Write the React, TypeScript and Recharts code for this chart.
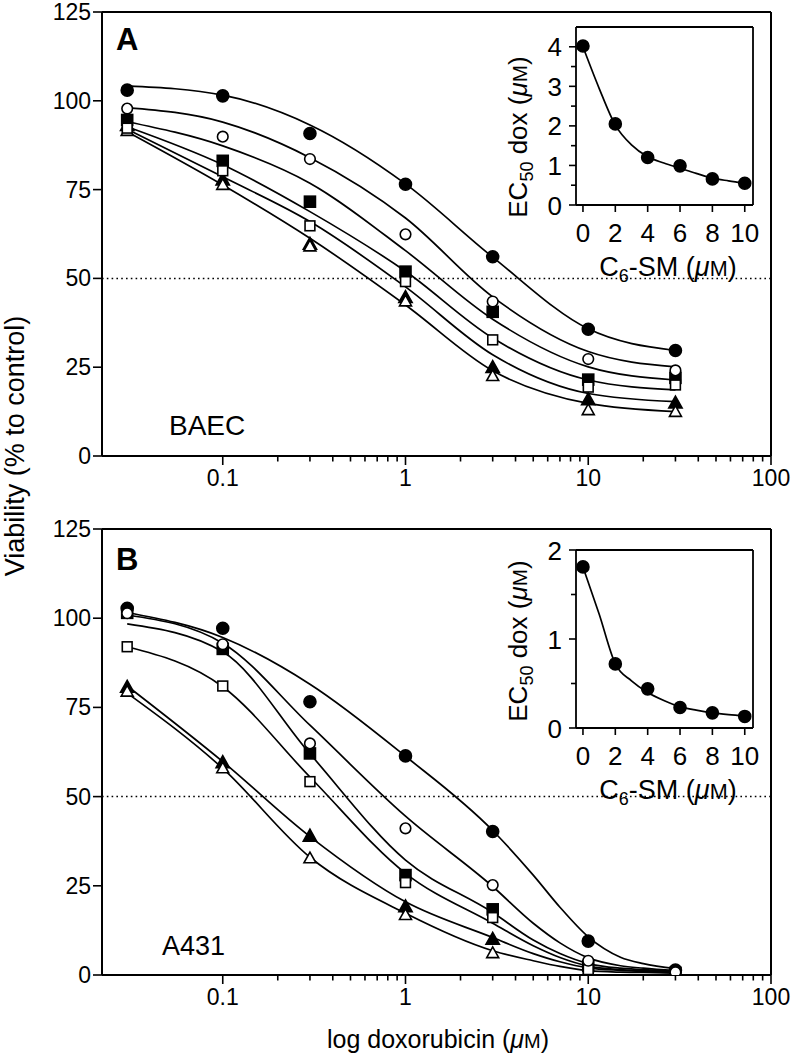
import React from 'react';
import { ComposedChart, Line, Scatter, XAxis, YAxis, ReferenceLine } from 'recharts';

const FONT = "'Liberation Sans', Arial, Helvetica, sans-serif";

// ---------- main panels: doxorubicin dose (µM) ----------
const doseX = [0.03, 0.1, 0.3, 1, 3, 10, 30];
const curveDoseA = [0.03, 0.1, 0.3, 1, 3, 10, 30];
const curveDoseB = [0.03, 0.1, 0.3, 1, 3, 5, 7, 10, 15, 20, 30];

// Panel A – BAEC, measured viability (% to control)
const baecFilledCircle = [103.0, 101.4, 90.8, 76.5, 56.1, 35.7, 29.7];
const baecOpenCircle = [97.8, 89.9, 83.6, 62.4, 43.5, 27.3, 24.1];
const baecFilledSquare = [94.6, 83.1, 71.6, 51.9, 40.6, 21.5, 22.0];
const baecOpenSquare = [92.3, 80.3, 64.8, 49.1, 32.7, 19.4, 20.0];
const baecFilledTriangle = [93.0, 77.7, 59.6, 44.6, 24.9, 15.8, 14.9];
const baecOpenTriangle = [91.5, 76.3, 59.0, 43.5, 22.5, 12.9, 12.4];

// Panel A – fitted curves read at curveDoseA
const baecFitFilledCircle = [104.2, 101.6, 93.2, 76.6, 56.0, 35.8, 29.7];
const baecFitOpenCircle = [98.1, 94.0, 84.0, 67.0, 44.8, 29.4, 25.1];
const baecFitFilledSquare = [94.1, 87.3, 76.8, 57.8, 38.5, 25.1, 21.4];
const baecFitOpenSquare = [92.7, 82.0, 68.8, 52.0, 33.2, 21.4, 18.6];
const baecFitFilledTriangle = [92.0, 78.6, 66.0, 47.6, 28.5, 17.6, 15.3];
const baecFitOpenTriangle = [91.3, 76.3, 61.3, 42.5, 24.0, 14.8, 12.5];

// Panel B – A431, measured viability
const a431FilledCircle = [102.8, 97.2, 76.6, 61.4, 40.2, 9.5, 1.4];
const a431OpenCircle = [101.4, 92.7, 64.9, 41.1, 25.2, 4.0, 0.8];
const a431FilledSquare = [101.5, 91.4, 62.1, 28.0, 18.4, 2.5, 0.6];
const a431OpenSquare = [92.0, 81.0, 54.2, 25.9, 16.1, 1.5, 0.5];
const a431FilledTriangle = [80.6, 59.5, 38.9, 19.1, 10.0, 0.8, 0.4];
const a431OpenTriangle = [79.4, 57.9, 32.7, 16.8, 6.1, 0.4, 0.3];

// Panel B – fitted curves read at curveDoseB
const a431FitFilledCircle = [101.6, 94.6, 81.5, 61.3, 40.5, 28.0, 19.0, 10.7, 5.0, 3.2, 1.8];
const a431FitOpenCircle = [100.9, 93.0, 70.0, 44.5, 24.8, 14.5, 9.0, 4.8, 2.6, 1.9, 1.2];
const a431FitFilledSquare = [98.4, 90.6, 62.0, 32.2, 17.5, 9.8, 6.0, 3.2, 1.9, 1.5, 1.0];
const a431FitOpenSquare = [92.0, 80.8, 55.5, 28.5, 14.5, 8.2, 4.9, 2.5, 1.5, 1.2, 0.8];
const a431FitFilledTriangle = [81.0, 59.8, 38.8, 20.5, 10.5, 6.0, 3.7, 2.0, 1.3, 1.0, 0.6];
const a431FitOpenTriangle = [79.0, 57.9, 33.0, 17.3, 6.8, 4.0, 2.4, 1.2, 0.8, 0.7, 0.5];

// axis ticks
const logTicks = [0.1, 0.2, 0.3, 0.4, 0.5, 0.6, 0.7, 0.8, 0.9, 1, 2, 3, 4, 5, 6, 7, 8, 9, 10, 20, 30, 40, 50, 60, 70, 80, 90, 100];
const logMajor = [0.1, 1, 10, 100];
const logMajorLabels = ['0.1', '1', '10', '100'];
const viabilityTicks = [0, 25, 50, 75, 100, 125];

// ---------- insets: EC50 vs C6-SM ----------
const c6smX = [0, 2, 4, 6, 8, 10];
const c6smFitX = [0, 1, 2, 3, 4, 5, 6, 7, 8, 9, 10];
const baecEC50 = [4.02, 2.05, 1.2, 0.99, 0.66, 0.55];
const baecEC50Fit = [4.0, 2.95, 2.02, 1.52, 1.22, 1.06, 0.93, 0.8, 0.68, 0.61, 0.55];
const a431EC50 = [1.81, 0.72, 0.44, 0.23, 0.17, 0.13];
const a431EC50Fit = [1.81, 1.28, 0.72, 0.53, 0.4, 0.31, 0.24, 0.2, 0.17, 0.15, 0.135];
const c6smTicks = [0, 2, 4, 6, 8, 10];
const ecTicksA = [0, 0.5, 1, 1.5, 2, 2.5, 3, 3.5, 4];
const ecTicksB = [0, 0.5, 1, 1.5, 2];

const toPts = (xs: number[], ys: number[]) => xs.map((x, i) => ({ x, y: ys[i] }));

type Kind = 'circle' | 'square' | 'triangle';

const makeShape = (kind: Kind, filled: boolean) => (props: any) => {
  const { cx, cy } = props;
  if (cx == null || cy == null || isNaN(cx) || isNaN(cy)) return <g />;
  const fill = filled ? '#000' : '#fff';
  const sw = 1.6;
  if (kind === 'circle') {
    return <circle cx={cx} cy={cy} r={filled ? 6 : 5.3} fill={fill} stroke="#000" strokeWidth={sw} />;
  }
  if (kind === 'square') {
    const h = filled ? 5.5 : 4.9;
    return <rect x={cx - h} y={cy - h} width={2 * h} height={2 * h} fill={fill} stroke="#000" strokeWidth={sw} />;
  }
  const s = filled ? 7 : 6.3;
  const pts = `${cx},${cy - s} ${cx - s * 0.95},${cy + s * 0.7} ${cx + s * 0.95},${cy + s * 0.7}`;
  return <polygon points={pts} fill={fill} stroke="#000" strokeWidth={sw} strokeLinejoin="miter" />;
};

const LogTick = (props: any) => {
  const { x, y, payload } = props;
  const v = payload.value;
  const mi = logMajor.indexOf(v);
  const major = mi >= 0;
  return (
    <g>
      <line x1={x} x2={x} y1={y} y2={y + (major ? 9 : 5.5)} stroke="#000" strokeWidth={1.6} />
      {major && (
        <text x={x} y={y + 30} textAnchor="middle" fontSize={23} fontFamily={FONT} fill="#000">
          {logMajorLabels[mi]}
        </text>
      )}
    </g>
  );
};

const MainYTick = (props: any) => {
  const { x, y, payload } = props;
  return (
    <text x={x} y={y} dy={8} textAnchor="end" fontSize={23} fontFamily={FONT} fill="#000">
      {payload.value}
    </text>
  );
};

type SeriesDef = { kind: Kind; filled: boolean; pts: number[]; fit: number[] };

const Panel = ({ series, fitX, height }: { series: SeriesDef[]; fitX: number[]; height: number }) => (
  <ComposedChart width={797} height={height} margin={{ top: 12, right: 26, bottom: 0, left: 0 }}>
    <XAxis
      dataKey="x"
      type="number"
      scale="log"
      domain={[0.02184, 100]}
      allowDataOverflow
      ticks={logTicks}
      interval={0}
      tickSize={0}
      tickMargin={0}
      tickLine={false}
      tick={<LogTick />}
      axisLine={{ stroke: '#000', strokeWidth: 2 }}
      height={44}
    />
    <YAxis
      dataKey="y"
      type="number"
      domain={[0, 125]}
      allowDataOverflow
      ticks={viabilityTicks}
      interval={0}
      width={102}
      tickSize={9}
      tickMargin={2}
      tickLine={{ stroke: '#000', strokeWidth: 1.6 }}
      axisLine={{ stroke: '#000', strokeWidth: 2 }}
      tick={<MainYTick />}
    />
    <ReferenceLine y={125} stroke="#000" strokeWidth={2} />
    <ReferenceLine x={100} stroke="#000" strokeWidth={2} />
    <ReferenceLine y={50} stroke="#000" strokeWidth={1.5} strokeDasharray="1.6 3.2" />
    {series.map((s, i) => (
      <Line
        key={'l' + i}
        data={toPts(fitX, s.fit)}
        dataKey="y"
        type="monotone"
        dot={false}
        activeDot={false}
        stroke="#000"
        strokeWidth={1.7}
        isAnimationActive={false}
      />
    ))}
    {series.map((s, i) => (
      <Scatter
        key={'s' + i}
        data={toPts(doseX, s.pts)}
        dataKey="y"
        shape={makeShape(s.kind, s.filled)}
        isAnimationActive={false}
      />
    ))}
  </ComposedChart>
);

const InsetXTick = (props: any) => {
  const { x, y, payload } = props;
  return (
    <g>
      <line x1={x} x2={x} y1={y} y2={y + 7} stroke="#000" strokeWidth={1.6} />
      <text x={x} y={y + 37} textAnchor="middle" fontSize={26} fontFamily={FONT} fill="#000">
        {payload.value}
      </text>
    </g>
  );
};

const InsetYTick = (props: any) => {
  const { x, y, payload } = props;
  const v = payload.value;
  const major = Number.isInteger(v);
  return (
    <g>
      <line x1={x} x2={x - (major ? 7 : 5)} y1={y} y2={y} stroke="#000" strokeWidth={1.6} />
      {major && (
        <text x={x - 14} y={y} dy={9.5} textAnchor="end" fontSize={26} fontFamily={FONT} fill="#000">
          {v}
        </text>
      )}
    </g>
  );
};

const Inset = ({ pts, fit, yMax, yTicks }: { pts: number[]; fit: number[]; yMax: number; yTicks: number[] }) => (
  <ComposedChart width={300} height={280} margin={{ top: 27, right: 27, bottom: 0, left: 0 }}>
    <XAxis
      dataKey="x"
      type="number"
      domain={[-0.43, 10.51]}
      allowDataOverflow
      ticks={c6smTicks}
      interval={0}
      tickSize={0}
      tickMargin={0}
      tickLine={false}
      tick={<InsetXTick />}
      axisLine={{ stroke: '#000', strokeWidth: 1.8 }}
      height={75}
    />
    <YAxis
      dataKey="y"
      type="number"
      domain={[0, yMax]}
      allowDataOverflow
      ticks={yTicks}
      interval={0}
      width={96}
      tickSize={0}
      tickMargin={0}
      tickLine={false}
      tick={<InsetYTick />}
      axisLine={{ stroke: '#000', strokeWidth: 1.8 }}
    />
    <ReferenceLine y={yMax} stroke="#000" strokeWidth={1.8} />
    <ReferenceLine x={10.51} stroke="#000" strokeWidth={1.8} />
    <Line
      data={toPts(c6smFitX, fit)}
      dataKey="y"
      type="monotone"
      dot={false}
      activeDot={false}
      stroke="#000"
      strokeWidth={1.7}
      isAnimationActive={false}
    />
    <Scatter data={toPts(c6smX, pts)} dataKey="y" shape={makeShape('circle', true)} isAnimationActive={false} />
  </ComposedChart>
);

const baecSeries: SeriesDef[] = [
  { kind: 'triangle', filled: true, pts: baecFilledTriangle, fit: baecFitFilledTriangle },
  { kind: 'triangle', filled: false, pts: baecOpenTriangle, fit: baecFitOpenTriangle },
  { kind: 'square', filled: true, pts: baecFilledSquare, fit: baecFitFilledSquare },
  { kind: 'square', filled: false, pts: baecOpenSquare, fit: baecFitOpenSquare },
  { kind: 'circle', filled: true, pts: baecFilledCircle, fit: baecFitFilledCircle },
  { kind: 'circle', filled: false, pts: baecOpenCircle, fit: baecFitOpenCircle },
];

const a431Series: SeriesDef[] = [
  { kind: 'triangle', filled: true, pts: a431FilledTriangle, fit: a431FitFilledTriangle },
  { kind: 'triangle', filled: false, pts: a431OpenTriangle, fit: a431FitOpenTriangle },
  { kind: 'square', filled: true, pts: a431FilledSquare, fit: a431FitFilledSquare },
  { kind: 'square', filled: false, pts: a431OpenSquare, fit: a431FitOpenSquare },
  { kind: 'circle', filled: true, pts: a431FilledCircle, fit: a431FitFilledCircle },
  { kind: 'circle', filled: false, pts: a431OpenCircle, fit: a431FitOpenCircle },
];

const MuM = ({ size }: { size: number }) => (
  <>
    <tspan fontStyle="italic">μ</tspan>
    <tspan fontSize={size * 0.8}>M</tspan>
  </>
);

export default function App() {
  return (
    <div style={{ position: 'absolute', left: 0, top: 0, width: 797, height: 1063, background: '#fff', overflow: 'hidden' }}>
      <div style={{ position: 'absolute', left: 0, top: 0 }}>
        <Panel series={baecSeries} fitX={curveDoseA} height={500} />
      </div>
      <div style={{ position: 'absolute', left: 0, top: 517 }}>
        <Panel series={a431Series} fitX={curveDoseB} height={502} />
      </div>
      <div style={{ position: 'absolute', left: 480, top: 0 }}>
        <Inset pts={baecEC50} fit={baecEC50Fit} yMax={4.5} yTicks={ecTicksA} />
      </div>
      <div style={{ position: 'absolute', left: 480, top: 523 }}>
        <Inset pts={a431EC50} fit={a431EC50Fit} yMax={2} yTicks={ecTicksB} />
      </div>
      <svg width={797} height={1063} style={{ position: 'absolute', left: 0, top: 0, pointerEvents: 'none' }}>
        <g fontFamily={FONT} fill="#000">
          <text x={116} y={50} fontSize={31} fontWeight="bold">A</text>
          <text x={116} y={570} fontSize={31} fontWeight="bold">B</text>
          <text x={169} y={435} fontSize={28}>BAEC</text>
          <text x={162} y={955} fontSize={27}>A431</text>
          <text x={24} y={446} fontSize={27} textAnchor="middle" transform="rotate(-90 24 446)">
            Viability (% to control)
          </text>
          <text x={438} y={1048} fontSize={25} textAnchor="middle">
            log doxorubicin (<MuM size={25} />)
          </text>
          {/* inset A labels */}
          <text x={668} y={276} fontSize={27} textAnchor="middle">
            C<tspan fontSize={18} dy={6}>6</tspan>
            <tspan dy={-6}>-SM (</tspan>
            <MuM size={27} />)
          </text>
          <text x={527} y={137} fontSize={26} textAnchor="middle" transform="rotate(-90 527 137)">
            EC<tspan fontSize={18} dy={6}>50</tspan>
            <tspan dy={-6}> dox (</tspan>
            <MuM size={26} />)
          </text>
          {/* inset B labels */}
          <text x={668} y={799} fontSize={27} textAnchor="middle">
            C<tspan fontSize={18} dy={6}>6</tspan>
            <tspan dy={-6}>-SM (</tspan>
            <MuM size={27} />)
          </text>
          <text x={527} y={641} fontSize={26} textAnchor="middle" transform="rotate(-90 527 641)">
            EC<tspan fontSize={18} dy={6}>50</tspan>
            <tspan dy={-6}> dox (</tspan>
            <MuM size={26} />)
          </text>
        </g>
      </svg>
    </div>
  );
}
